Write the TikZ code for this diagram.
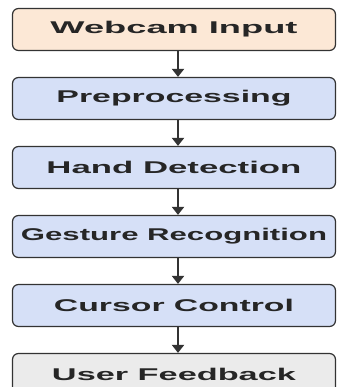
\documentclass[tikz,border=0pt]{standalone}
\usepackage{fontspec}
\usepackage{graphicx}
\usepackage{tikz}
\usetikzlibrary{arrows.meta}
\newfontfamily\stagefont{Liberation Sans}
\definecolor{lightpeach}{rgb}{0.99,0.91,0.84}
\definecolor{lightblue}{rgb}{0.84,0.88,0.97}
\definecolor{lightgray}{rgb}{0.92,0.92,0.92}
\definecolor{darkline}{rgb}{0.2,0.2,0.2}
% stretch a label to a given width, keep its height
\newcommand{\stagelabel}[2]{\resizebox{#1}{\height}{#2}}
\tikzset{
  stagebox/.style={draw=darkline,line width=1.2pt,rounded corners=6pt,
    minimum width=323pt,minimum height=42pt,inner sep=0pt,
    font=\stagefont\bfseries\fontsize{17}{20}\selectfont,text=black!85},
  flow/.style={draw=darkline,line width=1.9pt,-{Triangle[width=12pt,length=8pt]}}
}

\begin{document}
\begin{tikzpicture}
      \clip (0,0) rectangle (337pt,-387pt);
      \node[stagebox,fill=lightpeach] (webcam) at (174pt,-29.5pt) {\stagelabel{247pt}{Webcam Input}};
      \node[stagebox,fill=lightblue] (prep) at (174pt,-98.5pt) {\stagelabel{235pt}{Preprocessing}};
      \node[stagebox,fill=lightblue] (hand) at (174pt,-167.5pt) {\stagelabel{255pt}{Hand Detection}};
      \node[stagebox,fill=lightblue] (gesture) at (174pt,-236.5pt) {\stagelabel{306pt}{Gesture Recognition}};
      \node[stagebox,fill=lightblue] (cursor) at (174pt,-305.5pt) {\stagelabel{240pt}{Cursor Control}};
      \node[stagebox,fill=lightgray] (feedback) at (174pt,-374.5pt) {\stagelabel{244pt}{User Feedback}};

      \draw[flow] ([xshift=4pt]webcam.south) -- ([xshift=4pt]prep.north);
      \draw[flow] ([xshift=4pt]prep.south) -- ([xshift=4pt]hand.north);
      \draw[flow] ([xshift=4pt]hand.south) -- ([xshift=4pt]gesture.north);
      \draw[flow] ([xshift=4pt]gesture.south) -- ([xshift=4pt]cursor.north);
      \draw[flow] ([xshift=4pt]cursor.south) -- ([xshift=4pt]feedback.north);
\end{tikzpicture}
\end{document}
